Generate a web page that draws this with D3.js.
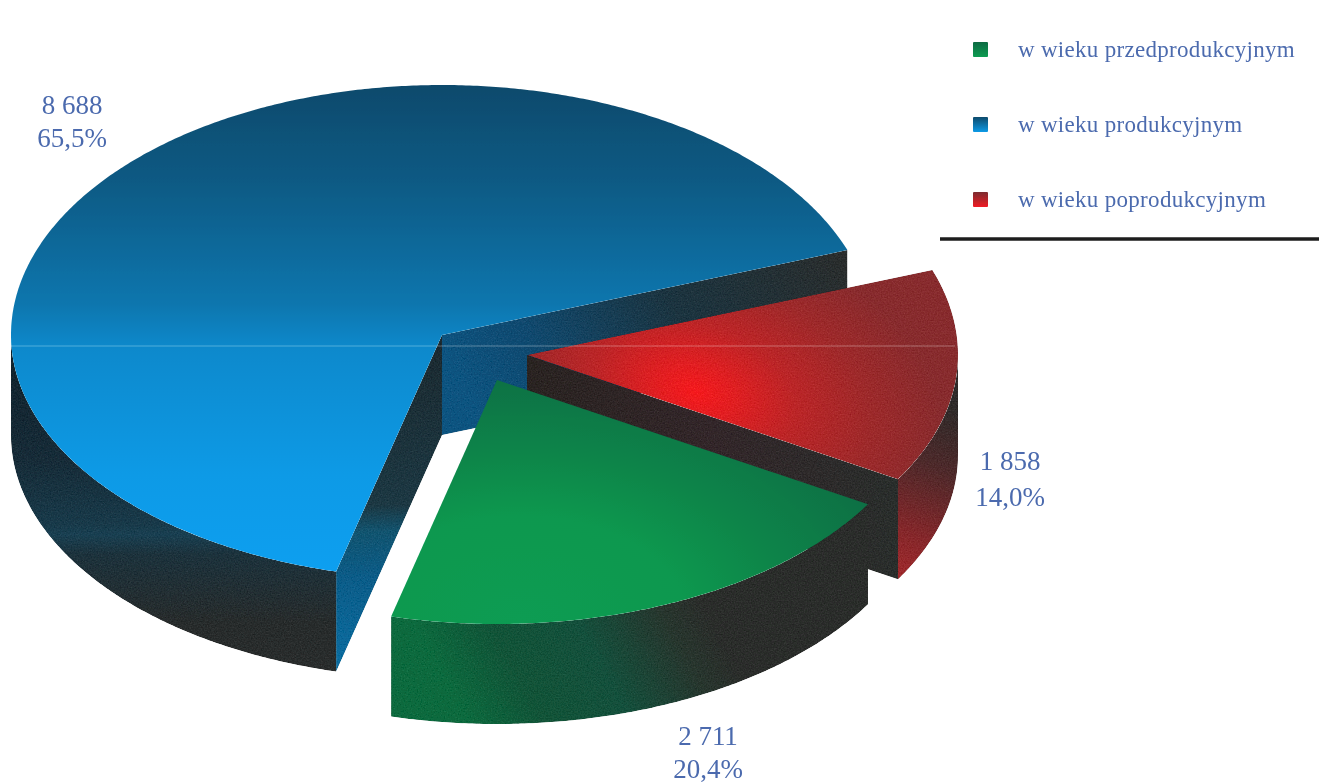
<!DOCTYPE html>
<html lang="pl">
<head>
<meta charset="utf-8">
<script src="https://cdn.jsdelivr.net/npm/d3@7/dist/d3.min.js"></script>
<style>
html,body{margin:0;padding:0;background:#fff;overflow:hidden}
svg{display:block}
text{font-family:"Liberation Serif",serif;fill:#4c6bae}
</style>
</head>
<body>
<svg id="chart" width="1319" height="783"></svg>
<script>
// ---- data ----
const categories = ["w wieku przedprodukcyjnym", "w wieku produkcyjnym", "w wieku poprodukcyjnym"];
const values = [2711, 8688, 1858];
const valueLabels = ["2 711", "8 688", "1 858"];
const percentLabels = ["20,4%", "65,5%", "14,0%"];

// ---- layout ----
const W = 1319, H = 783;
const pieStartDeg = 120.6;
const pieCentre = [442, 335];
const explode = [[55, 45], [0, 0], [85, 20]];          // per slice shift of the apex
const labelAt = [[708, 745], [72, 114], [1010, 470]];  // first line baseline per slice
const lineGap = [33, 33, 36];
const legendX = {swatch: 973, text: 1018};
const legendY = [49, 124, 199];
const rad = Math.PI / 180;

const xS = d3.scaleLinear().domain([-1, 1]).range([-431, 431]);
const yS = d3.scaleLinear().domain([-1, 0, 1]).range([-250, 0, 244]);
const zS = d3.scaleLinear().domain([0, 1]).range([0, 100]);

const pie = d3.pie().sort(null).startAngle(pieStartDeg * rad).endAngle((pieStartDeg + 360) * rad);
const slices = pie(values).map((d, i) => {
  const turn = d.startAngle >= 2 * Math.PI ? 2 * Math.PI : 0;   // keep every slice within one turn
  return {
    ...d, i,
    startAngle: d.startAngle - turn,
    endAngle: d.endAngle - turn,
    ox: pieCentre[0] + explode[i][0],
    oy: pieCentre[1] + explode[i][1]
  };
});

const svg = d3.select("#chart");
const defs = svg.append("defs");
const line = d3.line();

function rim(s, a, z) {
  return [s.ox + xS(Math.sin(a)), s.oy + yS(-Math.cos(a)) + zS(z)];
}
function sampled(a0, a1) {
  const n = Math.max(2, Math.ceil(Math.abs(a1 - a0) / (0.5 * rad)));
  return d3.range(n + 1).map(k => a0 + (a1 - a0) * k / n);
}
function topPath(s) {
  const apex = [s.ox, s.oy];
  return line([apex, ...sampled(s.startAngle, s.endAngle).map(a => rim(s, a, 0))]) + "Z";
}
function outerWallPath(s) {
  // only the front half (90°..270°) of the rim is visible
  const a0 = Math.max(s.startAngle, 90 * rad), a1 = Math.min(s.endAngle, 270 * rad);
  if (a1 <= a0) return null;
  const as = sampled(a0, a1);
  return line([...as.map(a => rim(s, a, 0)), ...as.slice().reverse().map(a => rim(s, a, 1))]) + "Z";
}
function cutWallPath(s, a) {
  const apexT = [s.ox, s.oy], apexB = [s.ox, s.oy + zS(1)];
  return line([apexT, rim(s, a, 0), rim(s, a, 1), apexB]) + "Z";
}

function linear(id, x1, y1, x2, y2, stops) {
  const g = defs.append("linearGradient").attr("id", id).attr("gradientUnits", "userSpaceOnUse")
    .attr("x1", x1).attr("y1", y1).attr("x2", x2).attr("y2", y2);
  stops.forEach(([o, c]) => g.append("stop").attr("offset", o).attr("stop-color", c));
}
function radial(id, r, tf, stops) {
  const g = defs.append("radialGradient").attr("id", id).attr("gradientUnits", "userSpaceOnUse")
    .attr("cx", 0).attr("cy", 0).attr("r", r).attr("gradientTransform", tf);
  stops.forEach(([o, c]) => g.append("stop").attr("offset", o).attr("stop-color", c));
}

// surfaces
linear("topBlue", 0, 85, 0, 572, [[0, "#0e4a6c"], [0.2, "#0c5a84"], [0.45, "#0a76ae"], [0.54, "#0789cc"], [0.8, "#0a9ae6"], [1, "#0a9ff0"]]);
radial("topRed", 170, "translate(695,392) rotate(18) scale(1.5,1)", [[0, "#f51a1e"], [0.15, "#e21f22"], [0.4, "#bc2628"], [0.7, "#9e2a2b"], [1, "#882c2e"]]);
radial("topGreen", 260, "translate(520,620) scale(1.6,1)", [[0, "#079c52"], [0.4, "#08984f"], [0.65, "#0a8449"], [1, "#0c6c43"]]);
// walls
linear("outerBlue", 0, 345, 0, 672, [[0, "#10222c"], [0.35, "#172c38"], [0.55, "#193a4a"], [0.58, "#1a4052"], [0.64, "#1d323c"], [0.85, "#282c2c"], [1, "#2a2d2d"]]);
linear("cutBlueEnd", 848, 250, 500, 450, [[0, "#2b2d2c"], [0.45, "#1c3440"], [0.8, "#104a70"], [1, "#0d5480"]]);
linear("cutBlueStart", 0, 340, 0, 670, [[0, "#1c2a30"], [0.5, "#1d3843"], [0.58, "#12546f"], [0.72, "#0b5c88"], [1, "#0a6ea2"]]);
linear("outerGreen", 470, 725, 700, 600, [[0, "#0c6a3e"], [0.25, "#125438"], [0.55, "#14503c"], [0.85, "#28362e"], [1, "#2b2d2b"]]);
linear("outerRed", 960, 410, 895, 575, [[0, "#2f2b2a"], [0.35, "#4e2a2b"], [0.75, "#85282b"], [1, "#a02a2d"]]);
linear("cutRedEnd", 527, 0, 897, 0, [[0, "#2a2422"], [0.5, "#33272a"], [1, "#2a2e2c"]]);

const topFill = ["url(#topGreen)", "url(#topBlue)", "url(#topRed)"];
const outerFill = ["url(#outerGreen)", "url(#outerBlue)", "url(#outerRed)"];
const cutFill = {
  "1s": "url(#cutBlueStart)", "1e": "url(#cutBlueEnd)", "2e": "url(#cutRedEnd)"
};

const soft = defs.append("filter").attr("id", "soft").attr("x", "-5%").attr("y", "-5%").attr("width", "110%").attr("height", "110%");
soft.append("feGaussianBlur").attr("stdDeviation", 0.45);
const softM = defs.append("filter").attr("id", "softM").attr("x", "-2%").attr("y", "-2%").attr("width", "104%").attr("height", "104%");
softM.append("feGaussianBlur").attr("stdDeviation", 0.6);

// fine speckle of the printed original, on the red face and the dark walls
const grain = defs.append("filter").attr("id", "grain").attr("color-interpolation-filters", "sRGB");
grain.append("feTurbulence").attr("type", "fractalNoise").attr("baseFrequency", 0.7).attr("numOctaves", 2).attr("seed", 4).attr("result", "n");
grain.append("feColorMatrix").attr("in", "n").attr("type", "matrix")
  .attr("values", "0.33 0.33 0.33 0 0 0.33 0.33 0.33 0 0 0.33 0.33 0.33 0 0 0 0 0 0 1").attr("result", "g");
grain.append("feComposite").attr("in", "SourceGraphic").attr("in2", "g").attr("operator", "arithmetic")
  .attr("k1", 0).attr("k2", 1).attr("k3", 0.22).attr("k4", -0.11).attr("result", "c");
grain.append("feComposite").attr("in", "c").attr("in2", "SourceAlpha").attr("operator", "in");

const pieG = svg.append("g").attr("filter", "url(#softM)");
// back to front: blue, red, green
[1, 2, 0].forEach(i => {
  const s = slices[i];
  const g = pieG.append("g").attr("class", "slice");
  const ow = outerWallPath(s);
  if (ow) g.append("path").attr("d", ow).attr("fill", outerFill[i]).attr("filter", "url(#grain)");
  if (Math.sin(s.endAngle) > 0) g.append("path").attr("d", cutWallPath(s, s.endAngle)).attr("fill", cutFill[i + "e"]).attr("filter", "url(#grain)");
  if (Math.sin(s.startAngle) < 0) g.append("path").attr("d", cutWallPath(s, s.startAngle)).attr("fill", cutFill[i + "s"]).attr("filter", "url(#grain)");
  const t = g.append("path").attr("d", topPath(s)).attr("fill", topFill[i]);
  if (i === 2) t.attr("filter", "url(#grain)");
});

// thin scan line across the pie, from the blue rim to the red rim
const blue = slices[1], red = slices[2];
const scanY = 346;
pieG.append("line")
  .attr("x1", blue.ox + xS(-1)).attr("x2", red.ox + xS(1) - 3)
  .attr("y1", scanY).attr("y2", scanY)
  .attr("stroke", "#fff").attr("stroke-opacity", 0.32).attr("stroke-width", 1.2);

// value labels
const lab = svg.append("g").attr("filter", "url(#soft)").selectAll("g").data(slices).join("g");
lab.append("text").attr("x", d => labelAt[d.i][0]).attr("y", d => labelAt[d.i][1])
  .attr("text-anchor", "middle").attr("font-size", 27).text(d => valueLabels[d.i]);
lab.append("text").attr("x", d => labelAt[d.i][0]).attr("y", d => labelAt[d.i][1] + lineGap[d.i])
  .attr("text-anchor", "middle").attr("font-size", 27).text(d => percentLabels[d.i]);

// legend
linear("swGreen", 0, 42, 0, 57, [[0, "#0c6a42"], [1, "#079c52"]]);
linear("swBlue", 0, 117, 0, 132, [[0, "#0e4a6c"], [1, "#0a9ae6"]]);
linear("swRed", 0, 192, 0, 207, [[0, "#7c2c30"], [1, "#f01c24"]]);
const swFill = ["url(#swGreen)", "url(#swBlue)", "url(#swRed)"];
const leg = svg.append("g").attr("filter", "url(#soft)").selectAll("g").data(categories).join("g");
leg.append("rect").attr("x", legendX.swatch).attr("y", (d, i) => legendY[i] - 7)
  .attr("width", 15).attr("height", 15).attr("rx", 1).attr("fill", (d, i) => swFill[i]);
leg.append("text").attr("x", legendX.text).attr("y", (d, i) => legendY[i] + 8)
  .attr("font-size", 23).attr("letter-spacing", 0.3).text(d => d);

// rule under the legend
svg.append("line").attr("x1", 940).attr("x2", W).attr("y1", 239).attr("y2", 239)
  .attr("stroke", "#1d1d1d").attr("stroke-width", 3.5);
</script>
</body>
</html>
